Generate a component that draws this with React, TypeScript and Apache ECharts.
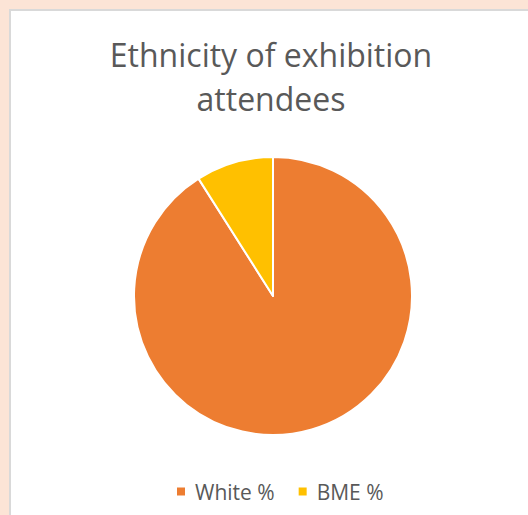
import React, { useEffect, useRef } from "react";
import * as echarts from "echarts";

const categories = ["White %", "BME %"];
const values = [91, 9];
const colors = ["#ED7D31", "#FFC000"];
const titleText = "Ethnicity of exhibition\nattendees";

export default function App() {
  const ref = useRef<HTMLDivElement>(null);
  useEffect(() => {
    if (!ref.current) return;
    const chart = echarts.init(ref.current, undefined, { renderer: "svg" });
    chart.setOption({
      animation: false,
      backgroundColor: "#FCE4D6",
      graphic: [
        {
          type: "rect",
          z: -10,
          shape: { x: 10, y: 10, width: 540, height: 540 },
          style: { fill: "#FFFFFF", stroke: "#D9D9D9", lineWidth: 2 },
        },
      ],
      title: {
        text: titleText,
        left: 266,
        textAlign: "center",
        top: 27,
        textStyle: {
          fontFamily: "Open Sans",
          fontWeight: "normal",
          fontSize: 32,
          lineHeight: 44,
          color: "#595959",
        },
      },
      legend: {
        data: categories,
        top: 476,
        left: 170,
        itemWidth: 10,
        itemHeight: 10,
        itemGap: 22,
        icon: "rect",
        textStyle: {
          fontFamily: "Open Sans",
          fontSize: 21,
          color: "#595959",
          padding: [2, 0, 0, 4],
        },
      },
      series: [
        {
          type: "pie",
          center: [273, 296],
          radius: 139,
          startAngle: 90,
          clockwise: true,
          label: { show: false },
          labelLine: { show: false },
          itemStyle: { borderColor: "#FFFFFF", borderWidth: 2 },
          emphasis: { disabled: true },
          data: categories.map((c, i) => ({
            name: c,
            value: values[i],
            itemStyle: { color: colors[i] },
          })),
        },
      ],
    });
    return () => chart.dispose();
  }, []);
  return (
    <div
      ref={ref}
      style={{ position: "fixed", left: 0, top: 0, width: 528, height: 515 }}
    />
  );
}
